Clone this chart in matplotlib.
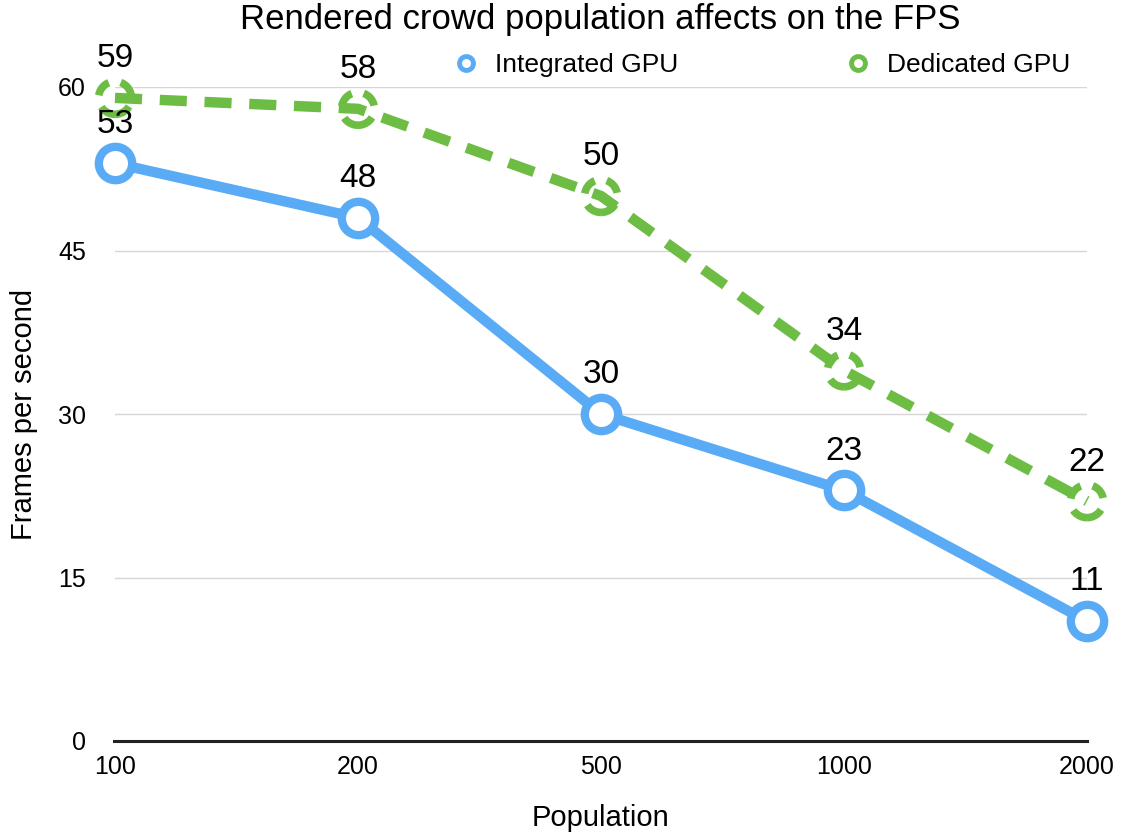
import matplotlib
matplotlib.use("Agg")
import matplotlib.pyplot as plt
from matplotlib.lines import Line2D
import numpy as np

plt.rcParams['font.family'] = ['Liberation Sans', 'DejaVu Sans']

categories = ["100", "200", "500", "1000", "2000"]
integrated = [53, 48, 30, 23, 11]
dedicated = [59, 58, 50, 34, 22]
y_ticks = [0, 15, 30, 45, 60]

blue = "#5aabf5"
green = "#6dbd45"

fig = plt.figure(figsize=(11.23, 8.35), dpi=100)
ax = fig.add_axes([115/1123, 1 - 741/835, (1087 - 115)/1123, (741 - 87)/835])

x = np.arange(len(categories))

ax.plot(x, dedicated, color=green, lw=7.5, linestyle=(0, (2.6, 1.7)),
        clip_on=False, zorder=3, solid_capstyle='butt', dash_capstyle='butt')
ax.scatter(x, dedicated, s=560, facecolors='none', edgecolors=green,
           linewidths=5.5, linestyle=(0, (2.2, 1.6)), clip_on=False, zorder=4)

ax.plot(x, integrated, color=blue, lw=7.5, clip_on=False, zorder=5,
        marker='o', markersize=24, markerfacecolor='white',
        markeredgecolor=blue, markeredgewidth=6)

for xi, v in zip(x, integrated):
    ax.annotate(str(v), (xi, v), xytext=(0, 17), textcoords='offset points',
                ha='center', va='bottom', fontsize=24, zorder=6)
for xi, v in zip(x, dedicated):
    ax.annotate(str(v), (xi, v), xytext=(0, 17), textcoords='offset points',
                ha='center', va='bottom', fontsize=24, zorder=6)

ax.set_xlim(0, len(categories) - 1)
ax.set_ylim(0, 60)
ax.set_xticks(x)
ax.set_xticklabels(categories, fontsize=18)
ax.set_yticks(y_ticks)
ax.set_yticklabels([str(t) for t in y_ticks], fontsize=18)
ax.tick_params(axis='both', length=0)
ax.tick_params(axis='y', pad=21)
ax.tick_params(axis='x', pad=10)
ax.grid(axis='y', color='#d6d6d6', lw=1)
ax.set_axisbelow(True)
for s in ['top', 'right', 'left']:
    ax.spines[s].set_visible(False)
ax.spines['bottom'].set_linewidth(2.2)
ax.spines['bottom'].set_color('#222222')
ax.spines['bottom'].set_bounds(-0.003, len(categories) - 1)

ax.set_xlabel("Population", fontsize=21, labelpad=18)
fig.text(24/1123, 1 - 414/835, "Frames per second", rotation=90,
         ha='center', va='center', fontsize=21)
fig.text(600/1123, 1 - 19/835, "Rendered crowd population affects on the FPS",
         ha='center', va='center', fontsize=25)

handles = [
    Line2D([], [], color=blue, marker='o', linestyle='none', markersize=10,
           markerfacecolor='white', markeredgecolor=blue, markeredgewidth=3.5),
    Line2D([], [], color=green, marker='o', linestyle='none', markersize=10,
           markerfacecolor='white', markeredgecolor=green, markeredgewidth=3.5),
]
leg = fig.legend(handles, ["Integrated GPU", "Dedicated GPU"], ncol=2,
                 loc='center left', bbox_to_anchor=(437/1123, 1 - 65/835),
                 frameon=False, fontsize=19, columnspacing=6.2,
                 handletextpad=0.5, handlelength=1.2, borderpad=0)

fig.savefig("out.png", dpi=100)
